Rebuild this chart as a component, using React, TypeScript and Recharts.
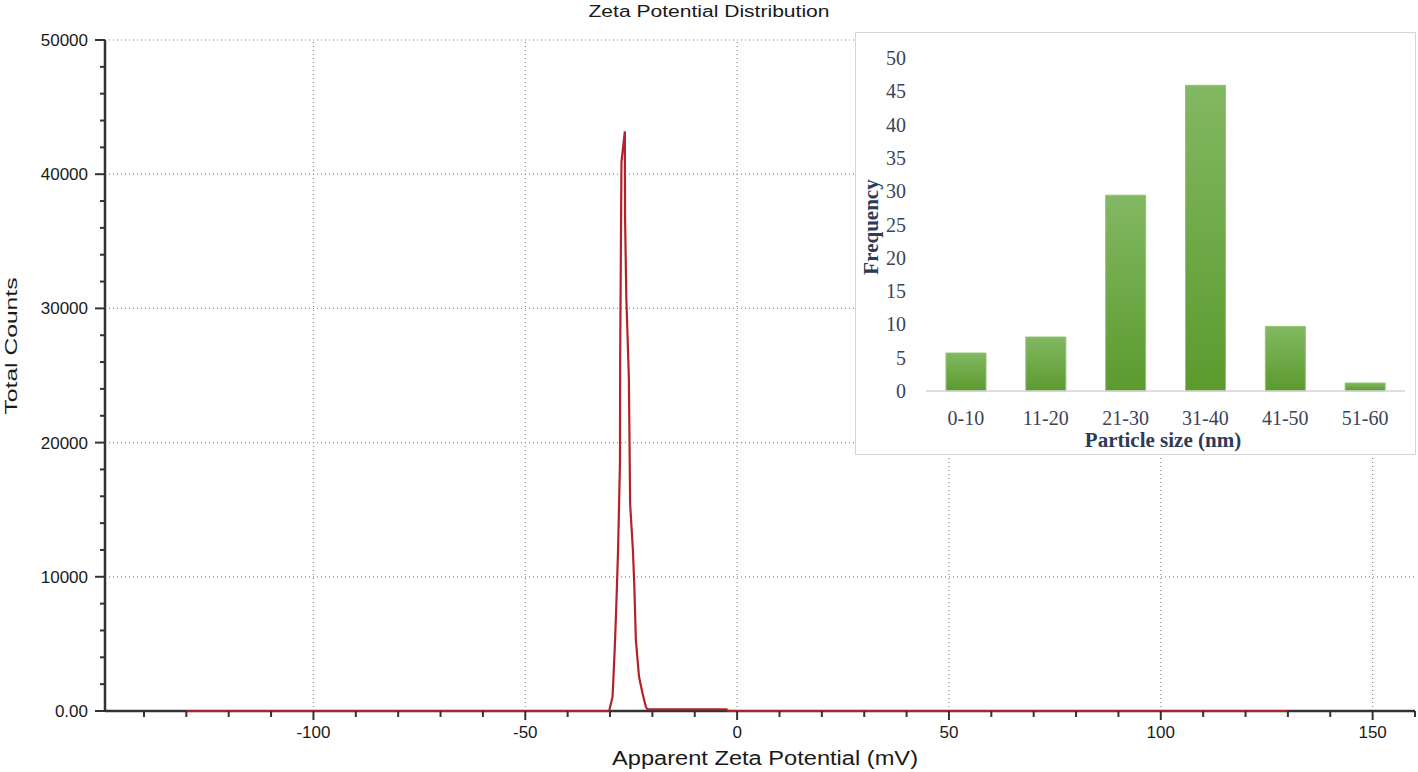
import React from 'react';
import { LineChart, Line, XAxis, YAxis, ReferenceLine, BarChart, Bar } from 'recharts';

// Main chart: zeta potential distribution
const zetaMv = [-130, -30.2, -29.4, -28.9, -28.55, -28.1, -27.65, -27.6, -27.3, -26.5, -26.45, -26.15, -25.55, -25.25, -24.6, -24.25, -23.9, -23.15, -22.35, -21.55, -21.2, -2.5, -2.1, 130];
const zetaCounts = [0, 0, 1070, 4550, 7530, 12000, 18500, 26400, 40900, 43200, 36800, 30800, 24800, 15400, 12000, 9200, 5300, 2550, 1340, 320, 130, 130, 0, 0];

const xTicks = [-140, -130, -120, -110, -100, -90, -80, -70, -60, -50, -40, -30, -20, -10, 0, 10, 20, 30, 40, 50, 60, 70, 80, 90, 100, 110, 120, 130, 140, 150, 160];
const xLabeled = [-100, -50, 0, 50, 100, 150];
const yTicks = [0, 2000, 4000, 6000, 8000, 10000, 12000, 14000, 16000, 18000, 20000, 22000, 24000, 26000, 28000, 30000, 32000, 34000, 36000, 38000, 40000, 42000, 44000, 46000, 48000, 50000];
const yLabeled = [0, 10000, 20000, 30000, 40000, 50000];

// Inset: particle size histogram
const sizeBins = ['0-10', '11-20', '21-30', '31-40', '41-50', '51-60'];
const sizeFreq = [5.7, 8.1, 29.4, 45.9, 9.7, 1.2];
const freqTicks = [0, 5, 10, 15, 20, 25, 30, 35, 40, 45, 50];

const zetaData = zetaMv.map((mv, i) => ({ mv, count: zetaCounts[i] }));
const sizeData = sizeBins.map((bin, i) => ({ bin, freq: sizeFreq[i] }));

const SANS = '"Liberation Sans", Arial, sans-serif';
const SERIF = '"Liberation Serif", "Times New Roman", serif';

const XTick = (props: any) => {
  const { x, y, payload } = props;
  const major = xLabeled.includes(payload.value);
  return (
    <g>
      <line x1={x} x2={x} y1={y} y2={y + (major ? 9 : 6)} stroke="#333" strokeWidth={2} />
      {major && (
        <text x={x} y={y + 27} textAnchor="middle" fontFamily={SANS} fontSize={17} fill="#1a1a1a">
          {payload.value}
        </text>
      )}
    </g>
  );
};

const YTick = (props: any) => {
  const { x, y, payload } = props;
  const major = yLabeled.includes(payload.value);
  return (
    <g>
      <line x1={x} x2={x - (major ? 10 : 5)} y1={y} y2={y} stroke="#333" strokeWidth={2} />
      {major && (
        <text x={x - 17} y={y + 6} textAnchor="end" fontFamily={SANS} fontSize={17} fill="#1a1a1a">
          {payload.value === 0 ? '0.00' : payload.value}
        </text>
      )}
    </g>
  );
};

const FreqTick = (props: any) => {
  const { x, y, payload } = props;
  return (
    <text x={x - 20} y={y + 7} textAnchor="end" fontFamily={SERIF} fontSize={20} fill="#3c4456">
      {payload.value}
    </text>
  );
};

const BinTick = (props: any) => {
  const { x, y, payload } = props;
  return (
    <text x={x} y={y + 34} textAnchor="middle" fontFamily={SERIF} fontSize={20} fill="#3c4456">
      {payload.value}
    </text>
  );
};

export default function App() {
  return (
    <div style={{ position: 'absolute', left: 0, top: 0, width: 1418, height: 772, background: '#fff', overflow: 'hidden' }}>
      <div style={{ position: 'absolute', left: 0, top: 0 }}>
        <LineChart width={1418} height={772} data={zetaData} margin={{ top: 40, right: 3, bottom: 0, left: 0 }}>
          {xLabeled.map((v) => (
            <ReferenceLine key={'gx' + v} x={v} stroke="#8a8a8a" strokeDasharray="1 3" strokeWidth={1.2} />
          ))}
          {yLabeled.filter((v) => v > 0).map((v) => (
            <ReferenceLine key={'gy' + v} y={v} stroke="#8a8a8a" strokeDasharray="1 3" strokeWidth={1.2} />
          ))}
          <XAxis
            dataKey="mv"
            type="number"
            domain={[-149.2, 160]}
            ticks={xTicks}
            interval={0}
            allowDataOverflow
            height={61}
            tickSize={0}
            tickMargin={0}
            tick={<XTick />}
            axisLine={{ stroke: '#333', strokeWidth: 2.5 }}
            tickLine={false}
          />
          <YAxis
            type="number"
            domain={[0, 50000]}
            ticks={yTicks}
            interval={0}
            width={105}
            tickSize={0}
            tickMargin={0}
            tick={<YTick />}
            axisLine={{ stroke: '#333', strokeWidth: 2.5 }}
            tickLine={false}
          />
          <Line
            dataKey="count"
            type="linear"
            stroke="#b3222a"
            strokeWidth={2.2}
            dot={false}
            isAnimationActive={false}
            zIndex={1000}
          />
        </LineChart>
      </div>

      <div
        style={{
          position: 'absolute',
          left: 855,
          top: 32,
          width: 561,
          height: 423,
          background: '#fff',
          border: '1px solid #d6d6d6',
          boxSizing: 'border-box',
        }}
      >
        <BarChart width={559} height={421} data={sizeData} margin={{ top: 25, right: 10, bottom: 0, left: 0 }}>
          <defs>
            <linearGradient id="greenBar" x1="0" y1="0" x2="0" y2="1">
              <stop offset="0%" stopColor="#82b862" />
              <stop offset="100%" stopColor="#5c9a2e" />
            </linearGradient>
          </defs>
          <XAxis
            dataKey="bin"
            height={63}
            tickSize={0}
            tickMargin={0}
            tick={<BinTick />}
            axisLine={{ stroke: '#cfd4dc', strokeWidth: 1.5 }}
            tickLine={false}
            interval={0}
          />
          <YAxis
            type="number"
            domain={[0, 50]}
            ticks={freqTicks}
            interval={0}
            width={70}
            tickSize={0}
            tickMargin={0}
            tick={<FreqTick />}
            axisLine={false}
            tickLine={false}
          />
          <Bar dataKey="freq" fill="url(#greenBar)" stroke="#8fc46f" strokeWidth={1} barSize={40} isAnimationActive={false} />
        </BarChart>
      </div>

      <svg width={1418} height={772} style={{ position: 'absolute', left: 0, top: 0, pointerEvents: 'none' }}>
        <text x={709} y={17} textAnchor="middle" fontFamily={SANS} fontSize={16} textLength={241} lengthAdjust="spacingAndGlyphs" fill="#1a1a1a">
          Zeta Potential Distribution
        </text>
        <text
          x={11}
          y={346}
          textAnchor="middle"
          dominantBaseline="central"
          transform="rotate(-90 11 346)"
          fontFamily={SANS}
          fontSize={17}
          textLength={137}
          lengthAdjust="spacingAndGlyphs"
          fill="#1a1a1a"
        >
          Total Counts
        </text>
        <text x={765} y={765} textAnchor="middle" fontFamily={SANS} fontSize={20} textLength={306} lengthAdjust="spacingAndGlyphs" fill="#1a1a1a">
          Apparent Zeta Potential (mV)
        </text>
        <text
          x={871}
          y={227}
          textAnchor="middle"
          dominantBaseline="central"
          transform="rotate(-90 871 227)"
          fontFamily={SERIF}
          fontWeight="bold"
          fontSize={21}
          fill="#2f3a56"
        >
          Frequency
        </text>
        <text x={1163} y={447} textAnchor="middle" fontFamily={SERIF} fontWeight="bold" fontSize={21} fill="#2f3a56">
          Particle size (nm)
        </text>
      </svg>
    </div>
  );
}
